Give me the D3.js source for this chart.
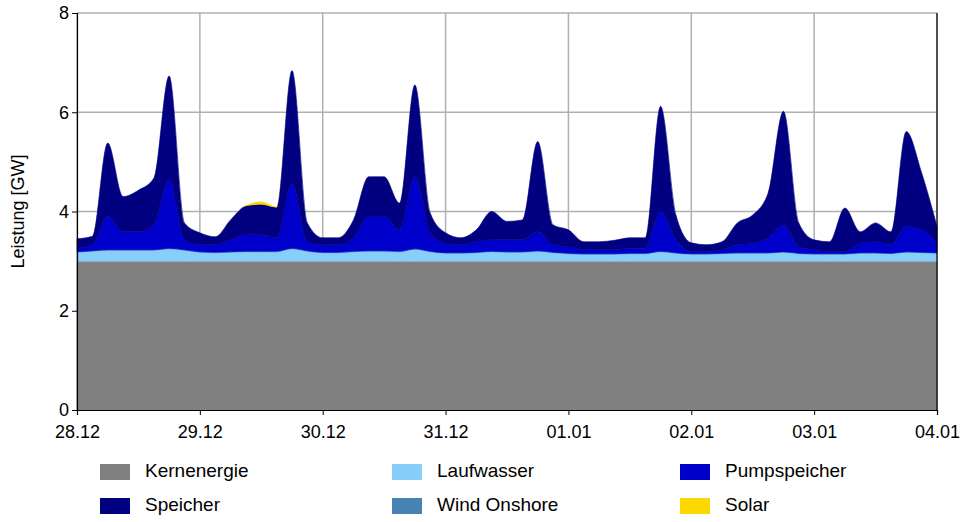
<!DOCTYPE html>
<html><head><meta charset="utf-8">
<script src="https://cdn.jsdelivr.net/npm/d3@7"></script>
<style>body{margin:0;background:#fff}</style>
</head><body>
<svg id="chart" width="968" height="522"></svg>
<script>
/* 3-hourly values, 28.12 00:00 .. 04.01 00:00 (57 points), GW */
const tickLabels = ['28.12','29.12','30.12','31.12','01.01','02.01','03.01','04.01'];
const yTicks = [0, 2, 4, 6, 8];

const kernenergie = [3.0,3.0,3.0,3.0,3.0,3.0,3.0,3.0, 3.0,3.0,3.0,3.0,3.0,3.0,3.0,3.0,
  3.0,3.0,3.0,3.0,3.0,3.0,3.0,3.0, 3.0,3.0,3.0,3.0,3.0,3.0,3.0,3.0, 3.0,3.0,3.0,3.0,3.0,3.0,3.0,3.0,
  3.0,3.0,3.0,3.0,3.0,3.0,3.0,3.0, 3.0,3.0,3.0,3.0,3.0,3.0,3.0,3.0,3.0];
const laufwasser = [0.18,0.20,0.22,0.22,0.22,0.22,0.25,0.22, 0.18,0.17,0.18,0.19,0.19,0.19,0.25,0.20,
  0.17,0.17,0.19,0.20,0.20,0.19,0.24,0.19, 0.16,0.16,0.17,0.19,0.18,0.18,0.20,0.17,
  0.15,0.14,0.14,0.14,0.15,0.15,0.19,0.16, 0.14,0.14,0.15,0.16,0.16,0.16,0.18,0.15,
  0.14,0.14,0.14,0.16,0.16,0.15,0.18,0.17,0.16];
const windOnshore = [0.01,0.01,0.01,0.01,0.01,0.01,0.01,0.01, 0.01,0.01,0.01,0.01,0.01,0.01,0.01,0.01,
  0.01,0.01,0.01,0.01,0.01,0.01,0.01,0.01, 0.01,0.01,0.01,0.01,0.01,0.01,0.01,0.01,
  0.01,0.01,0.01,0.01,0.01,0.01,0.01,0.01, 0.01,0.01,0.01,0.01,0.01,0.01,0.01,0.01,
  0.01,0.01,0.01,0.01,0.01,0.01,0.01,0.01,0.01];
const pumpspeicher = [0.07,0.12,0.67,0.36,0.36,0.50,1.38,0.20, 0.14,0.15,0.24,0.33,0.33,0.27,1.31,0.18,
  0.15,0.15,0.27,0.69,0.69,0.43,1.45,0.37, 0.19,0.16,0.21,0.23,0.24,0.24,0.38,0.15,
  0.13,0.08,0.08,0.08,0.10,0.10,0.80,0.26, 0.04,0.04,0.07,0.16,0.19,0.30,0.54,0.13,
  0.08,0.04,0.04,0.19,0.22,0.17,0.51,0.45,0.19];
const speicher = [0.19,0.17,1.48,0.71,0.84,0.94,2.09,0.34, 0.24,0.16,0.40,0.58,0.61,0.61,2.27,0.38,
  0.14,0.14,0.36,0.80,0.80,0.54,1.85,0.40, 0.21,0.14,0.24,0.57,0.37,0.40,1.82,0.40,
  0.34,0.16,0.16,0.19,0.21,0.21,2.12,0.50, 0.18,0.14,0.16,0.44,0.57,0.90,2.29,0.48,
  0.20,0.20,0.88,0.23,0.38,0.26,1.91,1.15,0.34];
const solar = [0,0,0,0,0,0,0,0, 0,0,0,0.02,0.06,0.02,0,0,
  0,0,0,0,0,0,0,0, 0,0,0,0,0,0,0,0, 0,0,0,0,0,0,0,0, 0,0,0,0,0,0,0,0, 0,0,0,0,0,0,0,0,0];

const series = [
  { key: 'Kernenergie',  values: kernenergie,  color: '#808080' },
  { key: 'Laufwasser',   values: laufwasser,   color: '#87CEFA' },
  { key: 'Wind Onshore', values: windOnshore,  color: '#4682B4' },
  { key: 'Pumpspeicher', values: pumpspeicher, color: '#0000CD' },
  { key: 'Speicher',     values: speicher,     color: '#000080' },
  { key: 'Solar',        values: solar,        color: '#FFD700' },
];
const legendOrder = ['Kernenergie','Laufwasser','Pumpspeicher','Speicher','Wind Onshore','Solar'];

const FONT = '"Liberation Sans", Arial, sans-serif';
const margin = { top: 13, right: 31, bottom: 112, left: 77 };
const W = 968, H = 522;
const iW = W - margin.left - margin.right;
const iH = H - margin.top - margin.bottom;

const svg = d3.select('#chart');
const g = svg.append('g').attr('transform', `translate(${margin.left},${margin.top})`);

const rows = kernenergie.map((_, i) => {
  const r = { h: i * 3 };
  series.forEach(s => { r[s.key] = s.values[i]; });
  return r;
});

const x = d3.scaleLinear().domain([0, 168]).range([0, iW]);
const y = d3.scaleLinear().domain([0, 8]).range([iH, 0]);

/* ── grid ── */
g.append('g').selectAll('line').data(d3.range(0, 169, 24)).join('line')
  .attr('x1', d => x(d)).attr('x2', d => x(d)).attr('y1', 0).attr('y2', iH)
  .attr('stroke', '#b0b0b0').attr('stroke-width', 1.5);
g.append('g').selectAll('line').data(yTicks).join('line')
  .attr('x1', 0).attr('x2', iW).attr('y1', d => y(d)).attr('y2', d => y(d))
  .attr('stroke', '#b0b0b0').attr('stroke-width', 1.5);

/* ── stacked areas ── */
const stack = d3.stack().keys(series.map(s => s.key));
const area = d3.area().x(d => x(d.data.h)).y0(d => y(d[0])).y1(d => y(d[1]))
  .curve(d3.curveMonotoneX);
g.selectAll('path.layer').data(stack(rows)).join('path')
  .attr('class', 'layer')
  .attr('d', area)
  .attr('fill', (d, i) => series[i].color)
  .attr('stroke', (d, i) => series[i].key === 'Solar' ? 'none' : series[i].color)
  .attr('stroke-width', 0.6);

/* ── axes ── */
const xAxis = g.append('g').attr('transform', `translate(0,${iH})`)
  .call(d3.axisBottom(x).tickValues(d3.range(0, 169, 24)).tickFormat((d, i) => tickLabels[i]).tickSize(5));
const yAxis = g.append('g')
  .call(d3.axisLeft(y).tickValues(yTicks).tickSize(5));
[xAxis, yAxis].forEach(ax => {
  ax.select('.domain').attr('stroke', '#000').attr('stroke-width', 1.2);
  ax.selectAll('.tick line').attr('stroke', '#000');
  ax.selectAll('.tick text').attr('fill', '#000').attr('font-size', 18).attr('font-family', FONT);
});
xAxis.selectAll('.tick text').attr('dy', '1.1em');
g.append('line').attr('x1', iW).attr('x2', iW).attr('y1', 0).attr('y2', iH)
  .attr('stroke', '#000').attr('stroke-width', 1.2);

svg.append('text')
  .attr('transform', `translate(24,${margin.top + iH / 2}) rotate(-90)`)
  .attr('text-anchor', 'middle')
  .attr('font-size', 18).attr('font-family', FONT)
  .text('Leistung [GW]');

/* ── legend ── */
const colX = [100, 392, 680];
const rowY = [472, 506];
legendOrder.forEach((k, i) => {
  const s = series.find(d => d.key === k);
  const lx = colX[i % 3], ly = rowY[Math.floor(i / 3)];
  svg.append('rect').attr('x', lx).attr('y', ly - 8).attr('width', 30).attr('height', 16)
    .attr('fill', s.color);
  svg.append('text').attr('x', lx + 45).attr('y', ly).attr('dominant-baseline', 'middle')
    .attr('font-size', 19).attr('font-family', FONT).text(k);
});
</script>
</body></html>
